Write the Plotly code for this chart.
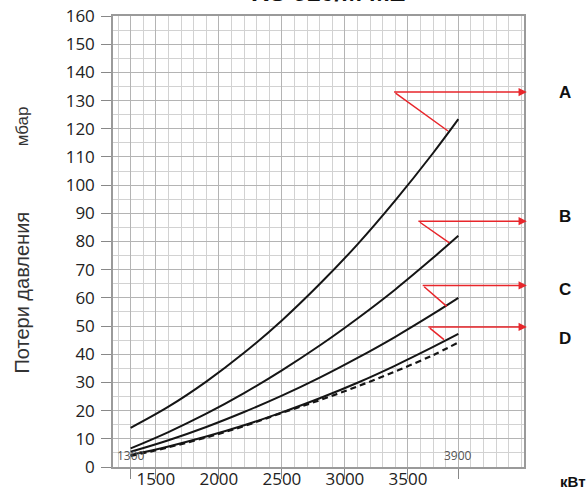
import plotly.graph_objects as go

# ---- data ----
power_kw = [1300, 1600, 1900, 2200, 2500, 2800, 3100, 3400, 3700, 3900]
curve_a = [13.9, 21.4, 30.3, 40.5, 52.0, 64.9, 79.0, 94.6, 111.4, 123.4]
curve_b = [6.6, 12.4, 18.9, 26.2, 34.3, 43.1, 52.7, 63.0, 74.2, 82.0]
curve_c = [5.4, 9.5, 14.2, 19.5, 25.3, 31.7, 38.7, 46.2, 54.3, 60.0]
curve_d = [4.3, 7.3, 10.8, 14.8, 19.4, 24.4, 29.9, 36.0, 42.6, 47.2]
curve_dashed = [3.9, 7.0, 10.5, 14.5, 19.2, 23.7, 28.6, 33.9, 39.7, 44.2]

x_tick_vals = [1300, 1500, 2000, 2500, 3000, 3500, 3900]
x_tick_text = ["", "1500", "2000", "2500", "3000", "3500", ""]
y_tick_vals = list(range(0, 161, 10))

labels = ["A", "B", "C", "D"]
arrow_corner_x = [3390, 3583, 3617, 3662]
arrow_corner_y = [133, 87.2, 64.4, 49.7]
arrow_curve_x = [3818, 3829, 3808, 3786]
arrow_curve_y = [119.2, 79.5, 57.0, 45.2]
label_y = [133, 89, 63, 45.5]
arrow_tip_x = 4455

title_text = "RS 510/M MZ"

X_RANGE = [1160, 4421]
Y_RANGE = [0, 160]

RED = "#e8262b"
LINE = "#151515"

fig = go.Figure()
for ys in [curve_a, curve_b, curve_c, curve_d]:
    fig.add_trace(go.Scatter(x=power_kw, y=ys, mode="lines",
                             line=dict(color=LINE, width=2, shape="spline"),
                             showlegend=False, hoverinfo="skip"))
fig.add_trace(go.Scatter(x=power_kw, y=curve_dashed, mode="lines",
                         line=dict(color=LINE, width=2.2, dash="6px,4px", shape="spline"),
                         showlegend=False, hoverinfo="skip"))

annotations = []
for i, lab in enumerate(labels):
    annotations.append(dict(x=arrow_corner_x[i], y=arrow_corner_y[i], xref="x", yref="y",
                            ax=arrow_tip_x, ay=arrow_corner_y[i], axref="x", ayref="y",
                            text="", showarrow=True, arrowside="start", startarrowhead=2,
                            startarrowsize=1.1, arrowwidth=1.5, arrowcolor=RED, startstandoff=0))
    annotations.append(dict(x=arrow_curve_x[i], y=arrow_curve_y[i], xref="x", yref="y",
                            ax=arrow_corner_x[i], ay=arrow_corner_y[i], axref="x", ayref="y",
                            text="", showarrow=True, arrowhead=0, arrowwidth=1.5,
                            arrowcolor=RED, standoff=0))
    annotations.append(dict(x=1.0998, y=label_y[i], xref="paper", yref="y", text="<b>" + lab + "</b>",
                            showarrow=False, xanchor="center", yanchor="middle",
                            font=dict(family="Liberation Sans", size=17, color="#111111")))

annotations.append(dict(x=1300, y=0, xref="x", yref="y", text="1300", showarrow=False,
                        xanchor="center", yanchor="bottom", yshift=1,
                        font=dict(family="Open Sans", size=12, color="#555555")))
annotations.append(dict(x=3900, y=0, xref="x", yref="y", text="3900", showarrow=False,
                        xanchor="center", yanchor="bottom", yshift=1,
                        font=dict(family="Open Sans", size=12, color="#555555")))

annotations.append(dict(x=1.0827, y=-0.033, xref="paper", yref="paper", text="<b>кВт</b>",
                        showarrow=False, xanchor="left", yanchor="middle",
                        font=dict(family="Liberation Sans", size=15, color="#111111")))
annotations.append(dict(x=-0.2214, y=0.7556, xref="paper", yref="paper", text="мбар",
                        showarrow=False, textangle=-90, xanchor="center", yanchor="middle",
                        font=dict(family="Liberation Sans", size=17, color="#333333")))
annotations.append(dict(x=-0.2214, y=0.3867, xref="paper", yref="paper", text="Потери давления",
                        showarrow=False, textangle=-90, xanchor="center", yanchor="middle",
                        font=dict(family="Liberation Sans", size=20, color="#333333")))
annotations.append(dict(x=0.523, y=1, xref="paper", yref="paper", text="<b>" + title_text + "</b>",
                        showarrow=False, xanchor="center", yanchor="bottom", yshift=8,
                        font=dict(family="Liberation Sans", size=25, color="#111111")))

fig.update_layout(
    width=587, height=496,
    margin=dict(l=113, r=63, t=16, b=29),
    paper_bgcolor="white", plot_bgcolor="white",
    showlegend=False,
    annotations=annotations,
    xaxis=dict(range=X_RANGE, tickmode="array", tickvals=x_tick_vals, ticktext=x_tick_text,
               automargin=False,
               showgrid=True, gridcolor="#b4b4b4", gridwidth=1.2,
               minor=dict(dtick=100, tick0=0, showgrid=True, gridcolor="#d2d2d2", gridwidth=1),
               ticks="outside", ticklen=10, tickcolor="#888888", tickwidth=1.2,
               ticklabelstandoff=-14,
               showline=True, linecolor="#9a9a9a", linewidth=1.5, mirror=True,
               zeroline=False, tickfont=dict(family="Open Sans", size=17, color="#222222")),
    yaxis=dict(range=Y_RANGE, tickmode="array", tickvals=y_tick_vals,
               automargin=False,
               showgrid=True, gridcolor="#b4b4b4", gridwidth=1.2,
               minor=dict(dtick=5, tick0=0, showgrid=True, gridcolor="#d2d2d2", gridwidth=1),
               ticks="outside", ticklen=10, tickcolor="#888888", tickwidth=1.2,
               ticklabelstandoff=3,
               showline=True, linecolor="#9a9a9a", linewidth=1.5, mirror=True,
               zeroline=False, tickfont=dict(family="Open Sans", size=17, color="#222222")),
)

fig.write_html("out.html", config={"displayModeBar": False},
               post_script="document.body.style.margin='0';document.body.style.overflow='hidden';")
